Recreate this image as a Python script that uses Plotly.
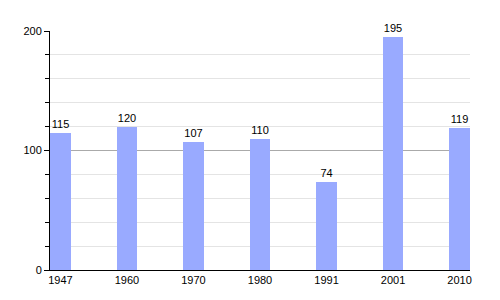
import plotly.graph_objects as go

years = ["1947", "1960", "1970", "1980", "1991", "2001", "2010"]
population = [115, 120, 107, 110, 74, 195, 119]

fig = go.Figure(go.Bar(
    x=years, y=population,
    marker=dict(color="#99AAFF", line=dict(width=0)),
    width=0.315,
    text=[str(v) for v in population],
    textposition="outside",
    textfont=dict(family="Liberation Sans, Arial, sans-serif", size=11, color="black"),
    cliponaxis=False,
))

fig.update_layout(
    width=500, height=300,
    margin=dict(l=50, r=30, t=31, b=30),
    paper_bgcolor="white", plot_bgcolor="white",
    font=dict(family="Liberation Sans, Arial, sans-serif", size=11, color="black"),
    showlegend=False,
    bargap=0,
)
fig.update_xaxes(
    type="category", range=[-0.1575, 6.1575],
    showline=True, linecolor="black", linewidth=1,
    ticks="", showgrid=False, tickfont=dict(size=11),
)
fig.update_yaxes(
    range=[0, 200], tickvals=[0, 100, 200],
    showline=True, linecolor="black", linewidth=1,
    ticks="outside", ticklen=5, tickcolor="black",
    showgrid=True, gridcolor="#AAAAAA", gridwidth=1,
    minor=dict(dtick=20, showgrid=True, gridcolor="#E4E4E4", ticks="outside", ticklen=4, tickcolor="black"),
    zeroline=False, tickfont=dict(size=11),
)

fig.write_html("out.html")
